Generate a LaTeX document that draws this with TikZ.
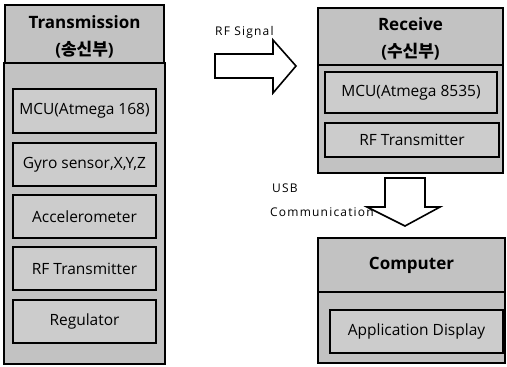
\documentclass[tikz,border=0pt]{standalone}
\usepackage{fontspec}
\setmainfont{Open Sans}
\newfontfamily\kr{Noto Sans CJK KR}
\newfontfamily\spaced[LetterSpace=10]{Open Sans}
\definecolor{boxgray}{gray}{0.76}
\definecolor{innergray}{gray}{0.80}
\begin{document}
\begin{tikzpicture}[x=1pt,y=-1pt,
  hdr/.style={draw=black, line width=1.2pt, fill=boxgray, inner sep=0pt},
  hdrtxt/.style={align=center, inner sep=0pt, yshift=-2.5pt, font=\fontsize{17}{27}\selectfont\bfseries},
  body/.style={draw=black, line width=2.6pt, fill=boxgray, inner sep=0pt},
  inner/.style={draw=black, line width=1.4pt, fill=innergray, inner sep=0pt, font=\fontsize{15.5}{18}\selectfont},
  blockarrow/.style={draw=black, line width=1.6pt, fill=white, line join=miter},
  lbl/.style={font=\fontsize{12}{14}\spaced, inner sep=0pt, anchor=west}
]
\useasboundingbox (0,0) rectangle (507,367);
% left column
\node[body, minimum width=161pt, minimum height=301pt] (lb) at (84.5,213.5) {};
\node[hdr, minimum width=159pt, minimum height=58pt, label={[hdrtxt]center:Transmission\\({\kr 송신부})}] (lh) at (84.5,34) {};
\node[inner, minimum width=143pt, minimum height=44pt] (l1) at (84.5,111) {MCU(Atmega 168)};
\node[inner, minimum width=143pt, minimum height=43pt] (l2) at (84.5,164.5) {Gyro sensor,X,Y,Z};
\node[inner, minimum width=143pt, minimum height=43pt] (l3) at (84.5,216.5) {Accelerometer};
\node[inner, minimum width=143pt, minimum height=43pt] (l4) at (84.5,268.5) {RF Transmitter};
\node[inner, minimum width=143pt, minimum height=43pt] (l5) at (84.5,321.5) {Regulator};
% receive
\node[body, minimum width=185pt, minimum height=108pt] (rb) at (410.5,119) {};
\node[hdr, minimum width=185pt, minimum height=57pt, label={[hdrtxt]center:Receive\\({\kr 수신부})}] (rh) at (410.5,36.5) {};
\node[inner, minimum width=172pt, minimum height=41pt] (r1) at (411,92.5) {MCU(Atmega 8535)};
\node[inner, minimum width=174pt, minimum height=34pt] (r2) at (412,140) {RF Transmitter};
% computer
\node[body, minimum width=187pt, minimum height=71pt] (cb) at (411.5,327.5) {};
\node[hdr, minimum width=187pt, minimum height=54pt, label={[hdrtxt, yshift=2.5pt]center:Computer}] (ch) at (411.5,265) {};
\node[inner, minimum width=173pt, minimum height=43pt] (c1) at (416.5,331.5) {Application Display};
% RF arrow
\coordinate (ra) at (215,66);
\draw[blockarrow] (ra) ++(0,-12) -- ++(58,0) -- ++(0,-14) -- (296,66) -- (273,93) -- ++(0,-15) -- ++(-58,0) -- cycle;
\node[lbl] (rfl) at (215,32) {RF Signal};
% USB arrow
\coordinate (ua) at (405,226);
\draw[blockarrow] (ua) -- (440,207) -- (425,207) -- (425,178) -- (385,178) -- (385,207) -- (367,207) -- cycle;
\node[lbl] (usb) at (272,188) {USB};
\node[lbl] (com) at (270,212) {Communication};
\end{tikzpicture}
\end{document}
